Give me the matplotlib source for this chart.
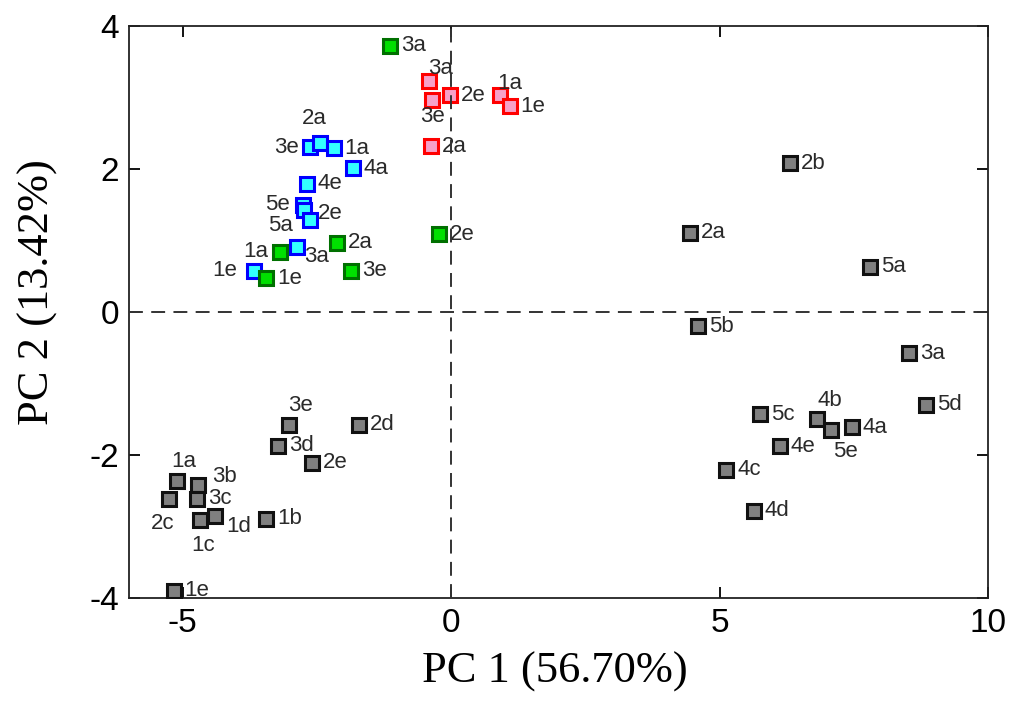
import matplotlib.pyplot as plt

plt.rcParams['axes.unicode_minus'] = False
plt.rcParams['lines.scale_dashes'] = False

# PCA scores
gray_x = [6.31, 4.45, 7.80, 4.60, 8.53, 8.84, 6.81, 7.07, 7.46, 5.76, 6.12, 5.12, 5.64,
          -3.02, -1.71, -3.23, -2.60, -5.10, -4.71, -5.26, -4.74, -4.68, -4.40, -3.44, -5.17]
gray_y = [2.08, 1.11, 0.63, -0.20, -0.58, -1.30, -1.49, -1.65, -1.61, -1.43, -1.88, -2.21, -2.78,
          -1.58, -1.58, -1.87, -2.11, -2.37, -2.42, -2.62, -2.61, -2.91, -2.86, -2.89, -3.90]
gray_lab = ['2b', '2a', '5a', '5b', '3a', '5d', '4b', '5e', '4a', '5c', '4e', '4c', '4d',
            '3e', '2d', '3d', '2e', '1a', '3b', '2c', '3c', '1c', '1d', '1b', '1e']

blue_x = [-2.63, -2.45, -2.19, -1.83, -2.69, -2.76, -2.74, -2.63, -2.88, -3.68]
blue_y = [2.31, 2.36, 2.29, 2.01, 1.79, 1.50, 1.43, 1.29, 0.91, 0.58]
blue_lab = ['3e', '2a', '1a', '4a', '4e', '5e', '2e', '5a', '3a', '1e']

green_x = [-1.14, -0.23, -2.12, -3.19, -1.87, -3.44]
green_y = [3.72, 1.09, 0.97, 0.84, 0.58, 0.47]
green_lab = ['3a', '2e', '2a', '1a', '3e', '1e']

red_x = [-0.42, -0.35, -0.02, 0.91, 1.09, -0.37]
red_y = [3.23, 2.96, 3.03, 3.03, 2.88, 2.32]
red_lab = ['3a', '3e', '2e', '1a', '1e', '2a']

# label placement: (dx px, dy px, ha); default is to the right
place = {
    ('gray', '4b'): (13, 18, 'center'),
    ('gray', '5e'): (15, -22, 'center'),
    ('gray', '3e'): (11, 19, 'center'),
    ('gray', '1a'): (6, 20, 'center'),
    ('gray', '3b'): (14, 9, 'left'),
    ('gray', '2c'): (-6, -24, 'center'),
    ('gray', '1c'): (3, -25, 'center'),
    ('gray', '1d'): (11, -10, 'left'),
    ('red', '3a'): (12, 13, 'center'),
    ('red', '3e'): (0, -16, 'center'),
    ('red', '1a'): (10, 12, 'center'),
    ('blue', '2a'): (-5, 25, 'center'),
    ('blue', '3e'): (-11, -1, 'right'),
    ('blue', '5e'): (-13, 0, 'right'),
    ('blue', '2e'): (14, -4, 'left'),
    ('blue', '5a'): (-17, -6, 'right'),
    ('blue', '3a'): (8, -10, 'left'),
    ('blue', '1e'): (-16, 0, 'right'),
    ('green', '1a'): (-12, 0, 'right'),
}

groups = [
    ('gray', gray_x, gray_y, gray_lab, '#808080', '#111111'),
    ('blue', blue_x, blue_y, blue_lab, '#33ffff', '#0000ff'),
    ('green', green_x, green_y, green_lab, '#00e000', '#007000'),
    ('red', red_x, red_y, red_lab, '#f7a0c8', '#ff0000'),
]

fig = plt.figure(figsize=(10.12, 7.04), dpi=100)
ax = fig.add_axes([0.1275, 0.1506, 0.8488, 0.8125])

for name, xs, ys, labs, fc, ec in groups:
    ax.plot(xs, ys, ls='none', marker='s', markersize=9.5, markerfacecolor=fc,
            markeredgecolor=ec, markeredgewidth=2.2, zorder=3)
    for x, y, lab in zip(xs, ys, labs):
        dx, dy, ha = place.get((name, lab), (11, 0, 'left'))
        ax.annotate(lab, (x, y), xytext=(dx, dy), textcoords='offset pixels',
                    ha=ha, va='center', fontsize=16, color='#2a2a2a',
                    family='Liberation Sans', zorder=4)

ax.axhline(0, color='#333333', lw=1.4, dashes=(10, 6), zorder=5)
ax.axvline(0, color='#333333', lw=1.4, dashes=(10, 6), zorder=5)

ax.set_xlim(-6, 10)
ax.set_ylim(-4, 4)
ax.set_xticks([-5, 0, 5, 10])
ax.set_yticks([-4, -2, 0, 2, 4])
ax.tick_params(direction='in', length=8, width=1.3, top=True, right=True,
               labelsize=24, pad=7)
for lbl in ax.get_xticklabels() + ax.get_yticklabels():
    lbl.set_family('Liberation Sans')
for sp in ax.spines.values():
    sp.set_linewidth(1.3)
    sp.set_color('#222222')

fig.text(555 / 1012, 1 - 672 / 704, 'PC 1 (56.70%)', ha='center', va='center',
         fontsize=32, family='Liberation Serif')
fig.text(38 / 1012, 1 - 292 / 704, 'PC 2 (13.42%)', ha='center', va='center',
         rotation=90, fontsize=32, family='Liberation Serif')

fig.savefig('out.png', dpi=100)
